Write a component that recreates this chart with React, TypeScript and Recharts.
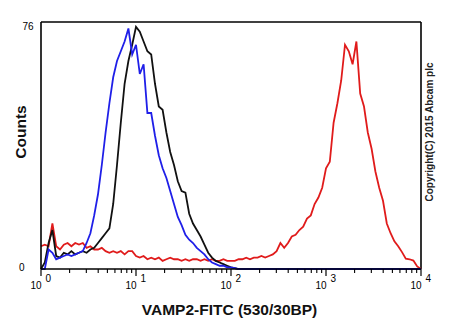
import React from 'react';
import { LineChart, Line, XAxis, YAxis, ReferenceLine } from 'recharts';

// channel index: 25 channels per decade, 0..100 => 10^0..10^4
const channels = Array.from({ length: 101 }, (_, i) => i);

const blueCounts = [
  0, 0, 6, 5, 3, 3.5, 4, 4.5, 4, 4.5,
  5, 5.5, 8, 11, 16.5, 23, 32, 42, 51, 59,
  64, 67, 70, 74, 66, 69, 60, 63, 48, 48,
  41, 35, 31, 28, 24, 20, 16, 13.5, 10.5, 9,
  8, 6.5, 5.5, 4.5, 3, 2, 1.5, 1, 1, 0.5,
  0.5, 0.3, 0, 0, 0, 0, 0, 0, 0, 0,
  0, 0, 0, 0, 0, 0, 0, 0, 0, 0,
  0, 0, 0, 0, 0, 0, 0, 0, 0, 0,
  0, 0, 0, 0, 0, 0, 0, 0, 0, 0,
  0, 0, 0, 0, 0, 0, 0, 0, 0, 0,
  0,
];

const blackCounts = [
  0, 2, 8, 12, 4, 3.5, 5, 4.5, 5.5, 4.5,
  5, 5.5, 5, 6, 6.5, 8, 9.5, 11, 12.5, 20,
  32, 45, 57, 64, 69, 74.5, 73, 70, 67, 66,
  57, 50, 49, 42, 36, 32, 27, 24, 23.5, 17,
  14, 12, 10, 7.5, 5, 3.5, 2.5, 2, 1.5, 1,
  0.5, 0.3, 0, 0, 0, 0, 0, 0, 0, 0,
  0, 0, 0, 0, 0, 0, 0, 0, 0, 0,
  0, 0, 0, 0, 0, 0, 0, 0, 0, 0,
  0, 0, 0, 0, 0, 0, 0, 0, 0, 0,
  0, 0, 0, 0, 0, 0, 0, 0, 0, 0,
  0,
];

const redCounts = [
  7, 7.5, 7, 14, 7, 6, 7.5, 8, 7, 8,
  7.5, 8, 6.5, 7, 6, 6, 6.5, 5.5, 5, 5.5,
  5, 5.5, 4.5, 5.5, 5.5, 4, 3.5, 4, 3, 3.5,
  3, 3.5, 2.5, 3, 3.5, 3, 3, 2.5, 3, 2.5,
  3, 3, 2.5, 3, 2.5, 3, 2.5, 2.5, 3, 2.5,
  2.5, 2.5, 3, 3, 3.5, 3, 3.5, 3.5, 4, 3.5,
  4, 4.5, 5.5, 8, 6.5, 8, 10, 10.5, 12, 13,
  15.5, 16.5, 20, 22, 25, 31, 33, 45, 51, 58,
  69, 67, 63, 70, 54, 50, 42, 37, 30, 25,
  21, 14, 11, 8.5, 7, 5.2, 3.2, 3, 2.6, 0.8,
  0,
];

const decadeExponents = ['0', '1', '2', '3', '4'];
const majorTicks = [0, 25, 50, 75, 100];
const minorMultipliers = [2, 3, 4, 5, 6, 7, 8, 9];
const yTicks = [0, 76];
const CH_PER_DECADE = 25;

const data = channels.map((ch, i) => ({
  ch,
  blue: blueCounts[i],
  black: blackCounts[i],
  red: redCounts[i],
}));

const minorTicks: number[] = [];
for (let d = 0; d < 4; d++) {
  for (const m of minorMultipliers) {
    minorTicks.push(CH_PER_DECADE * (d + Math.log10(m)));
  }
}
const xTicks = [...majorTicks, ...minorTicks];

const FONT = '"Liberation Sans", Arial, sans-serif';

const XTick = (props: any) => {
  const { x, y, payload } = props;
  const idx = majorTicks.indexOf(payload.value);
  if (idx >= 0) {
    return (
      <g>
        <line x1={x} x2={x} y1={y} y2={y + 7} stroke="#000" strokeWidth={1.2} />
        <text x={x + 0.5} y={y + 20} textAnchor="end" fontSize={10} fontFamily={FONT} fill="#000">10</text>
        <text x={x + 4.5} y={y + 13.3} textAnchor="start" fontSize={10} fontFamily={FONT} fill="#000">{decadeExponents[idx]}</text>
      </g>
    );
  }
  return <line x1={x} x2={x} y1={y} y2={y + 4} stroke="#000" strokeWidth={1.1} />;
};

const YTick = (props: any) => {
  const { x, y, payload } = props;
  const top = payload.value === 76;
  return (
    <text x={top ? x - 7.5 : x - 16.5} y={top ? y + 8 : y + 2} textAnchor="end" fontSize={10} fontFamily={FONT} fill="#000">
      {payload.value}
    </text>
  );
};

export default function App() {
  return (
    <div style={{ position: 'absolute', left: 0, top: 0, width: 450, height: 330, background: '#fff' }}>
      <LineChart width={450} height={330} data={data} margin={{ top: 22, right: 29, left: 0, bottom: 0 }}>
        <XAxis
          dataKey="ch"
          type="number"
          domain={[0, 100]}
          ticks={xTicks}
          interval={0}
          tickSize={0}
          tickMargin={0}
          tickLine={false}
          tick={<XTick />}
          height={61}
          axisLine={{ stroke: '#000', strokeWidth: 1.6 }}
        />
        <YAxis
          type="number"
          domain={[0, 76]}
          ticks={yTicks}
          interval={0}
          tickSize={0}
          tickMargin={0}
          tickLine={false}
          tick={<YTick />}
          width={41}
          axisLine={{ stroke: '#000', strokeWidth: 1.6 }}
        />
        <ReferenceLine y={76} stroke="#000" strokeWidth={1.6} ifOverflow="visible" />
        <ReferenceLine x={100} stroke="#000" strokeWidth={1.6} ifOverflow="visible" />
        <Line type="linear" dataKey="red" stroke="#e01b1b" strokeWidth={1.8} dot={false} isAnimationActive={false} />
        <Line type="linear" dataKey="black" stroke="#111" strokeWidth={1.8} dot={false} isAnimationActive={false} />
        <Line type="linear" dataKey="blue" stroke="#1f1fe8" strokeWidth={1.8} dot={false} isAnimationActive={false} />
      </LineChart>
      <svg width={450} height={330} style={{ position: 'absolute', left: 0, top: 0, pointerEvents: 'none' }}>
        <text x={229.5} y={315} textAnchor="middle" fontSize={15.5} fontWeight="bold" fontFamily={FONT} fill="#111">
          VAMP2-FITC (530/30BP)
        </text>
        <text x={21} y={132} dy="0.35em" textAnchor="middle" fontSize={15.5} fontWeight="bold" fontFamily={FONT} fill="#111" transform="rotate(-90, 21, 132)">
          Counts
        </text>
        <text x={429} y={132} dy="0.35em" textAnchor="middle" fontSize={10} fontWeight="bold" fontFamily={FONT} fill="#222" transform="rotate(-90, 429, 132)">
          Copyright(C) 2015 Abcam plc
        </text>
      </svg>
    </div>
  );
}
